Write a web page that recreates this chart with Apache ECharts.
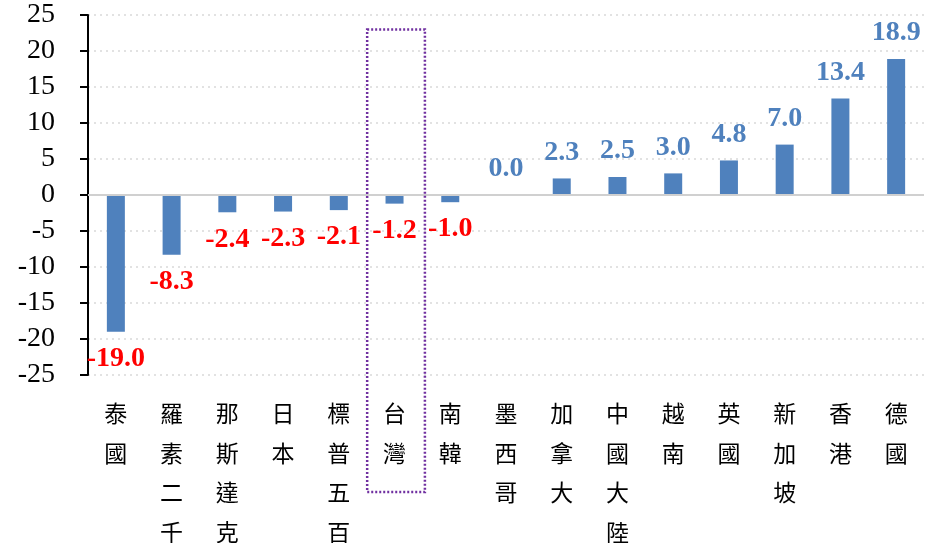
<!DOCTYPE html>
<html>
<head>
<meta charset="utf-8">
<script src="https://cdn.jsdelivr.net/npm/echarts@6/dist/echarts.min.js"></script>
<style>
  html, body { margin: 0; padding: 0; background: #fff; }
  #chart { width: 942px; height: 543px; }
</style>
</head>
<body>
<div id="chart"></div>
<script>
var categories = ['泰國', '羅素二千', '那斯達克', '日本', '標普五百', '台灣', '南韓', '墨西哥', '加拿大', '中國大陸', '越南', '英國', '新加坡', '香港', '德國'];
var values = [-19.0, -8.3, -2.4, -2.3, -2.1, -1.2, -1.0, 0.0, 2.3, 2.5, 3.0, 4.8, 7.0, 13.4, 18.9];
var highlight = '台灣';

var BLUE = '#4F81BD';
var serif = '"Liberation Serif", "Times New Roman", serif';

var chart = echarts.init(document.getElementById('chart'));

var barData = values.map(function (v) {
    var neg = v < 0;
    return {
        value: v,
        label: {
            position: neg ? 'bottom' : 'top',
            distance: neg ? 13 : 12,
            color: neg ? '#FF0000' : BLUE
        }
    };
});

chart.setOption({
    animation: false,
    grid: { left: 88, right: 18, top: 15, bottom: 168, containLabel: false, outerBoundsMode: 'none' },
    xAxis: {
        type: 'category',
        data: categories,
        axisLine: { show: false, onZero: false },
        axisTick: { show: false },
        axisLabel: {
            interval: 0,
            margin: 19,
            fontFamily: '"Noto Sans CJK TC", sans-serif',
            fontSize: 23,
            lineHeight: 39.5,
            color: '#000',
            verticalAlign: 'top',
            formatter: function (s) { return s.split('').join('\n'); }
        }
    },
    yAxis: {
        type: 'value',
        min: -25,
        max: 25,
        interval: 5,
        axisLine: { show: true, lineStyle: { color: '#000', width: 2 } },
        axisTick: { show: true, length: 8, lineStyle: { color: '#000', width: 2 } },
        axisLabel: {
            margin: 33,
            fontFamily: serif,
            fontSize: 28,
            color: '#000'
        },
        splitLine: { lineStyle: { color: '#d9d9d9', type: [2, 4], width: 1.5 } }
    },
    series: [{
        type: 'bar',
        data: barData,
        barWidth: 18,
        itemStyle: { color: BLUE },
        label: {
            show: true,
            fontFamily: serif,
            fontSize: 28,
            fontWeight: 'bold',
            formatter: function (p) { return p.value.toFixed(1); }
        },
        markLine: {
            silent: true,
            symbol: 'none',
            label: { show: false },
            lineStyle: { color: '#d0d0d0', type: 'solid', width: 2 },
            data: [{ yAxis: 0 }]
        }
    }]
});

// dotted box around the highlighted category
var idx = categories.indexOf(highlight);
var c = chart.convertToPixel({ xAxisIndex: 0 }, idx);
var half = chart.getModel().getComponent('xAxis', 0).axis.getBandWidth() / 2;
var yTop = chart.convertToPixel({ yAxisIndex: 0 }, 23);
chart.setOption({
    graphic: [{
        type: 'rect',
        shape: { x: c - half + 0.5, y: yTop, width: half * 2 + 2, height: 492 - yTop },
        style: { fill: 'none', stroke: '#7030A0', lineWidth: 2.5, lineDash: [2, 2] },
        z: 10
    }]
});
</script>
</body>
</html>
